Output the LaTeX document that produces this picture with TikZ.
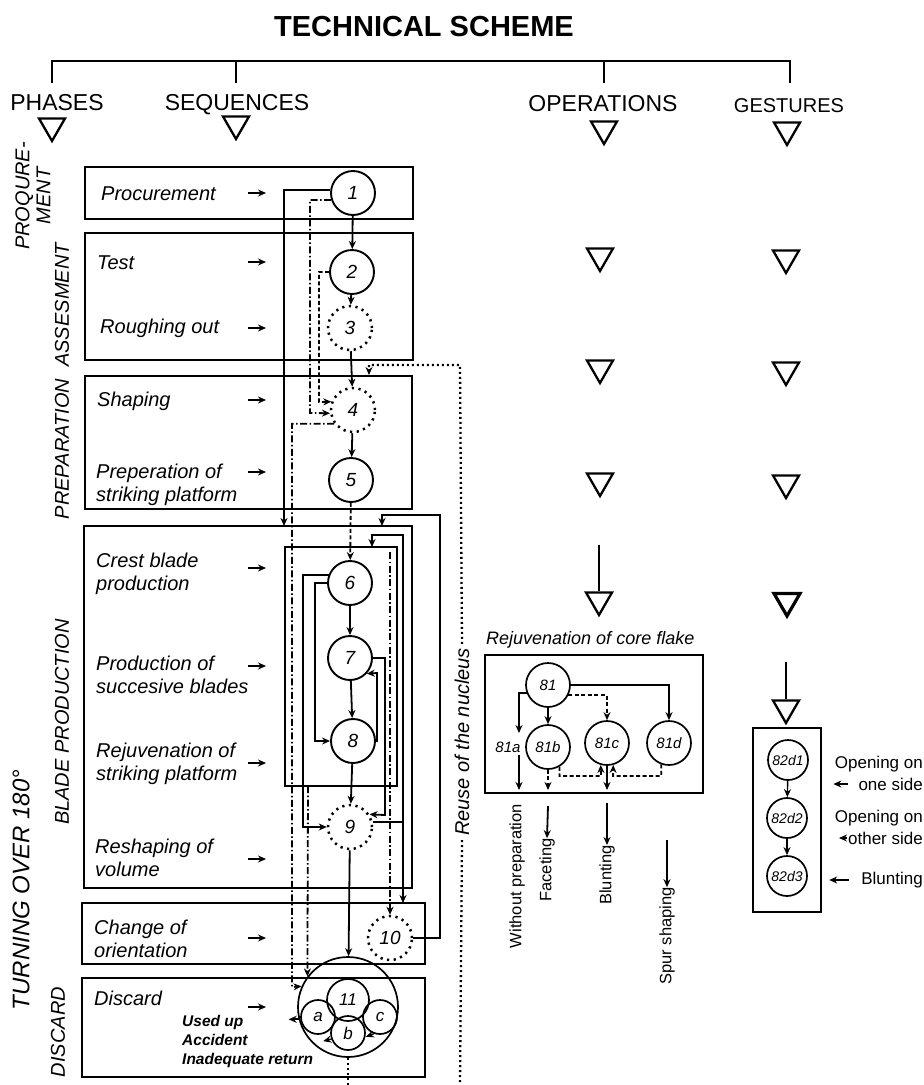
\documentclass[tikz,border=0pt]{standalone}
\usepackage{fontspec}
\setmainfont{Liberation Sans}
\usetikzlibrary{arrows.meta,shapes.geometric,calc}
\begin{document}
\begin{tikzpicture}[x=1pt,y=-1pt,
  seqbox/.style={draw, line width=2.3pt, anchor=north west, inner sep=0pt, outer sep=0pt},
  circ/.style={draw, circle, minimum size=44pt, inner sep=0pt, line width=1.9pt, font=\fontsize{19}{19}\selectfont\itshape},
  dcirc/.style={circ, dash pattern=on 2.2pt off 4.5pt, line width=2.5pt},
  scirc/.style={draw, circle, inner sep=0pt, line width=1.7pt, font=\fontsize{15}{15}\selectfont\itshape},
  tri/.style={draw, regular polygon, regular polygon sides=3, shape border rotate=180, minimum size=30pt, inner sep=0pt, line width=2.3pt},
  con/.style={line width=1.8pt, -{Stealth[length=8pt,width=7pt]}},
  ln/.style={line width=1.8pt},
  dd/.style={dash pattern=on 7pt off 2.5pt on 1.5pt off 2.5pt},
  dsh/.style={dash pattern=on 4pt off 2.5pt},
  reuse/.style={line width=2.3pt, dash pattern=on 2pt off 3pt},
  hdr/.style={anchor=base, font=\fontsize{23}{23}\selectfont, inner sep=0pt},
  seql/.style={anchor=west, align=left, font=\fontsize{20}{23}\selectfont\itshape, inner sep=0pt},
  phl/.style={rotate=90, align=center, font=\fontsize{20}{21}\selectfont\itshape, inner sep=0pt},
  vlbl/.style={rotate=90, font=\fontsize{16.5}{16.5}\selectfont, inner sep=0pt},
  rlbl/.style={anchor=east, font=\fontsize{17}{17}\selectfont, inner sep=0pt}
]
\useasboundingbox (0,0) rectangle (924,1085);

% ---------- title and header ----------
\node[anchor=base, font=\fontsize{29}{29}\selectfont\bfseries, inner sep=0pt] (title) at (424,36) {TECHNICAL SCHEME};
\node[hdr] (hPh) at (57,110) {PHASES};
\node[hdr] (hSeq) at (237,110) {SEQUENCES};
\node[hdr] (hOp) at (603,111) {OPERATIONS};
\node[hdr, font=\fontsize{20}{20}\selectfont] (hGe) at (789,112) {GESTURES};
\draw[line width=2.6pt] (52,83) -- (52,61) -- (790,61) -- (790,83);
\draw[line width=2.2pt] (236,61) -- (236,83);
\draw[line width=2.2pt] (604,61) -- (604,83);

\node[tri] (tPh) at (52,126) {};
\node[tri] (tSeq) at (236,124) {};
\node[tri] (tOp0) at (604,129) {};
\node[tri] (tGe0) at (787,130) {};
\node[tri] (tOp1) at (600,256) {};
\node[tri] (tGe1) at (786,258) {};
\node[tri] (tOp2) at (600,368) {};
\node[tri] (tGe2) at (786,370) {};
\node[tri] (tOp3) at (600,481) {};
\node[tri] (tGe3) at (786,483) {};
\node[tri] (tOp4) at (599,600) {};
\node[tri, line width=3.2pt] (tGe4) at (787,601) {};
\node[tri] (tGe5) at (786,708) {};
\coordinate (op4top) at (599,545);
\coordinate (ge5top) at (786,662);
\draw[ln] (op4top) -- (tOp4);
\draw[ln] (ge5top) -- (tGe5);

% ---------- phase labels ----------
\node[phl] (pProq) at (33,196) {PROQURE-\\MENT};
\node[phl] (pAss) at (62,305) {ASSESMENT};
\node[phl] (pPrep) at (62,449) {PREPARATION};
\node[phl] (pBlade) at (62,722) {BLADE PRODUCTION};
\node[phl, font=\fontsize{24}{24}\selectfont\itshape] (pTurn) at (21,890) {TURNING OVER 180°};
\node[phl] (pDisc) at (58,1032) {DISCARD};

% ---------- sequence boxes ----------
\node[seqbox, minimum width=328pt, minimum height=52pt] (bProc) at (85,167) {};
\node[seqbox, minimum width=328pt, minimum height=127pt] (bAss) at (85,233) {};
\node[seqbox, minimum width=327pt, minimum height=133pt] (bPrep) at (85,376) {};
\node[seqbox, minimum width=328pt, minimum height=362pt] (bBlade) at (84,526) {};
\node[seqbox, minimum width=343pt, minimum height=61pt] (bChange) at (82,903) {};
\node[seqbox, minimum width=343pt, minimum height=99pt] (bDisc) at (82,978) {};
\node[seqbox, line width=2pt, minimum width=112pt, minimum height=239pt] (bInner) at (285,547) {};

% ---------- sequence labels ----------
\node[seql] (lProc) at (101,194) {Procurement};
\node[seql] (lTest) at (97,263) {Test};
\node[seql] (lRough) at (100,328) {Roughing out};
\node[seql] (lShape) at (97,401) {Shaping};
\node[seql] (lPrepS) at (96,485) {Preperation of\\striking platform};
\node[seql] (lCrest) at (96,574) {Crest blade\\production};
\node[seql] (lSucc) at (96,675) {Production of\\succesive blades};
\node[seql] (lRej) at (96,764) {Rejuvenation of\\striking platform};
\node[seql] (lResh) at (95,858) {Reshaping of\\volume};
\node[seql] (lChange) at (94,939) {Change of\\orientation};
\node[seql] (lDisc) at (94,998) {Discard};
\node[anchor=west, align=left, font=\fontsize{15.5}{19}\selectfont\bfseries\itshape, inner sep=0pt] (lUsed) at (182,1041) {Used up\\Accident\\Inadequate return};
\foreach \yy in {193,262,328,400,472,568,666,763,859,938,1007}
  \draw[con, line width=2pt] (248,\yy) -- (266,\yy);

% ---------- circles ----------
\node[circ] (c1) at (353,193) {1};
\node[circ] (c2) at (352,272) {2};
\node[dcirc] (c3) at (350,328) {3};
\node[dcirc] (c4) at (353,410) {4};
\node[circ] (c5) at (351,480) {5};
\node[circ] (c6) at (350,583) {6};
\node[circ] (c7) at (350,658) {7};
\node[circ] (c8) at (353,741) {8};
\node[dcirc] (c9) at (350,827) {9};
\node[dcirc] (c10) at (390,938) {10};
\node[circ, minimum size=100pt, line width=1.7pt] (c11big) at (348,1007) {};
\node[scirc, minimum size=42pt, font=\fontsize{17}{17}\selectfont\itshape] (c11) at (348,1000) {11};
\node[scirc, minimum size=34pt, font=\fontsize{17}{17}\selectfont\itshape] (ca) at (318,1017) {a};
\node[scirc, minimum size=34pt, font=\fontsize{17}{17}\selectfont\itshape] (cc) at (380,1017) {c};
\node[scirc, minimum size=34pt, font=\fontsize{17}{17}\selectfont\itshape] (cb) at (348,1033) {b};

% ---------- main chain ----------
\draw[con] (c1) -- (c2);
\draw[con, dsh] (c2) -- (c3);
\draw[con] (c3) -- (c4);
\draw[con] (c4) -- (c5);
\draw[con, dsh] (c5) -- (c6);
\draw[con] (c6) -- (c7);
\draw[con] (c7) -- (c8);
\draw[con] (c8) -- (c9);
\draw[con] (c9) -- (c11big);

% ---------- loops and shortcuts ----------
\coordinate (kBladeA) at (284,526);
\draw[con] (c1.172) -| (kBladeA);
\draw[con, dd] (c1.198) -| (310,413) -- (c4.188);
\draw[con, dsh] (c2.west) -| (319,402) -- (c4.159);
\draw[con, dd] (c4.216) -| (292,987) -- (c11big.156);
\draw[con] (c6.159) -| (303,827) -- (c9.west);
\draw[con] (c6.west) -| (315,741) -- (c8.west);
\draw[con] (c7.east) -| (385,815) -- (c9.33);
\draw[con] (c8.east) -| (377,673) -- (c7.317);
\coordinate (kInnerTop) at (372,547);
\draw[con] (c9.13) -| (403,535) -| (kInnerTop);
\coordinate (j9) at (403,822);
\draw[con] (j9) -- (j9 |- bChange.north);
\coordinate (kBladeB) at (382,526);
\draw[con] (c10.east) -| (440,515) -| (kBladeB);
\coordinate (ib1) at (308,786);
\draw[con, dd] (ib1) -- (c11big.143);
\coordinate (ib2) at (390,552);
\draw[con, dd] (ib2) -- (c10);
\draw[con] (c11big.194) -- ++(-10,0);
\draw[con, line width=1.3pt] (cb.200) -- ++(-8,2);
\draw[con, line width=1.3pt] (cc.250) -- ++(-8,3);

% ---------- reuse of the nucleus ----------
\node[rotate=90, font=\fontsize{20}{20}\selectfont\itshape, inner sep=4pt] (lReuse) at (462,742) {Reuse of the nucleus};
\draw[reuse, -{Stealth[length=8pt,width=7pt]}] (lReuse.east) -- (460,365) -| (369,375);
\draw[reuse] (lReuse.west) -- (460,1085);
\draw[reuse] (c11big.south) -- (348,1085);

% ---------- operations: rejuvenation of core flake ----------
\node[anchor=west, font=\fontsize{18}{18}\selectfont\itshape, inner sep=0pt] (lRcf) at (486,640) {Rejuvenation of core flake};
\node[seqbox, line width=2pt, minimum width=218pt, minimum height=138pt] (bRejuv) at (485,655) {};
\node[scirc, minimum size=44pt] (r81) at (548,685) {81};
\node[scirc, minimum size=44pt] (r81b) at (548,747) {81b};
\node[scirc, minimum size=44pt] (r81c) at (607,743) {81c};
\node[scirc, minimum size=44pt] (r81d) at (669,743) {81d};
\node[font=\fontsize{15}{15}\selectfont\itshape, inner sep=0pt] (l81a) at (508,747) {81a};
\coordinate (k81top) at (519,733);
\draw[con] (r81) -- (r81b);
\draw[con] (r81.200) -| (k81top);
\coordinate (k81a) at (519,790);
\draw[con] (519,755) -- (k81a);
\draw[con, dsh] (r81.333) -| (r81c.north);
\draw[con] (r81.east) -| (r81d.north);
\coordinate (k81b) at (548,790);
\draw[con, dsh] (r81b.south) -- (k81b);
\coordinate (k81c) at (607,790);
\draw[con] (r81c.south) -- (k81c);
\draw[con, dsh] (r81b.300) |- (601,776) -- (r81c.254);
\draw[con, dsh] (r81d.250) |- (613,776) -- (r81c.286);

\node[vlbl] (vWo) at (517,876) {Without preparation};
\node[vlbl] (vFa) at (547,870) {Faceting};
\node[vlbl] (vBl) at (607,875) {Blunting};
\node[vlbl] (vSp) at (667,936) {Spur shaping};
\draw[con] (548,806) -- (vFa.east);
\draw[con] (607,803) -- (vBl.east);
\draw[con] (667,840) -- (vSp.east);

% ---------- gestures ----------
\node[seqbox, line width=2pt, minimum width=68pt, minimum height=184pt] (bGest) at (753,728) {};
\node[scirc, minimum size=40pt, font=\fontsize{14}{14}\selectfont\itshape] (g1) at (788,760) {82d1};
\node[scirc, minimum size=40pt, font=\fontsize{14}{14}\selectfont\itshape] (g2) at (787,818) {82d2};
\node[scirc, minimum size=40pt, font=\fontsize{14}{14}\selectfont\itshape] (g3) at (787,876) {82d3};
\draw[con, line width=1.4pt] (g1) -- (g2);
\draw[con, line width=1.4pt] (g2) -- (g3);
\node[rlbl] (o1a) at (923,764) {Opening on};
\node[rlbl] (o1b) at (923,784) {one side};
\node[rlbl] (o2a) at (923,818) {Opening on};
\node[rlbl] (o2b) at (923,838) {other side};
\node[rlbl] (o3) at (923,880) {Blunting};
\draw[con, line width=1.4pt] (o1b.west) ++(-10,0) -- ++(-15,0);
\draw[con, line width=1.4pt] (o2b.west) ++(-1,0) -- ++(-8,0);
\draw[con, line width=1.4pt] (o3.west) ++(-12,0) -- ++(-20,0);
\end{tikzpicture}
\end{document}
